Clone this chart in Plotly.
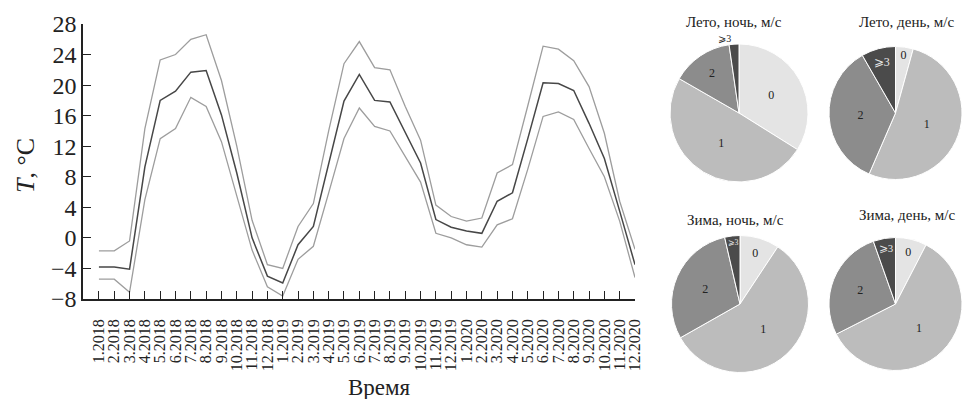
import plotly.graph_objects as go

# Monthly air temperature, 2018-2020
months = [f"{m}.{y}" for y in (2018, 2019, 2020) for m in range(1, 13)]
t_max = [-1.7, -1.7, -0.4, 14.3, 23.3, 24.0, 26.0, 26.6, 20.6, 12.0, 2.3, -3.5,
         -4.0, 1.5, 4.5, 14.0, 22.8, 25.7, 22.3, 22.0, 17.2, 12.8, 4.3, 2.8,
         2.2, 2.6, 8.5, 9.6, 17.3, 25.1, 24.7, 23.2, 19.8, 13.7, 4.8, -1.5]
t_mean = [-3.8, -3.8, -4.1, 9.3, 18.0, 19.2, 21.7, 21.9, 16.1, 8.5, 0.0, -5.0,
          -5.9, -0.9, 1.5, 9.5, 17.9, 21.4, 18.0, 17.8, 13.7, 9.8, 2.4, 1.4,
          0.9, 0.6, 4.8, 5.9, 13.0, 20.3, 20.2, 19.3, 15.0, 10.4, 3.5, -3.5]
t_min = [-5.4, -5.4, -7.1, 5.0, 13.0, 14.3, 18.4, 17.2, 12.6, 5.5, -1.6, -6.4,
         -7.6, -2.8, -1.1, 5.9, 13.0, 17.0, 14.6, 14.0, 10.6, 7.3, 0.6, 0.0,
         -0.9, -1.2, 1.7, 2.5, 9.0, 15.9, 16.5, 15.5, 11.7, 8.0, 2.2, -5.2]
y_ticks = [-8, -4, 0, 4, 8, 12, 16, 20, 24, 28]

# Wind speed distribution, % of observations
wind_labels = ["0", "1", "2", "⩾3"]
summer_night = [33.9, 49.4, 14.4, 2.3]
summer_day = [4.3, 52.2, 35.2, 8.3]
winter_night = [9.3, 57.5, 29.6, 3.6]
winter_day = [7.6, 59.9, 27.1, 5.4]
pie_titles = ["Лето, ночь, м/с", "Лето, день, м/с", "Зима, ночь, м/с", "Зима, день, м/с"]

SERIF = "Liberation Serif, Times New Roman, serif"
W, H = 962, 399
slice_colors = ["#e4e4e4", "#bcbcbc", "#8c8c8c", "#4b4b4b"]
text_colors = ["#222222", "#222222", "#222222", "#e8e8e8"]

fig = go.Figure()

x_idx = list(range(len(months)))
for series, color, width in ((t_max, "#9d9d9d", 1.3), (t_min, "#9d9d9d", 1.3),
                             (t_mean, "#474747", 1.5)):
    fig.add_trace(go.Scatter(x=x_idx, y=series, mode="lines",
                             line=dict(color=color, width=width),
                             showlegend=False, hoverinfo="skip"))


def px_x(a, b):
    return [a / W, min(b / W, 1.0)]


def px_y(top, bottom):
    return [1 - bottom / H, 1 - top / H]


pies = [
    (summer_night, px_x(670, 808), px_y(44, 182), ["inside", "inside", "inside", "outside"]),
    (summer_day, px_x(829, 962), px_y(46, 180), ["inside"] * 4),
    (winter_night, px_x(671.5, 808.5), px_y(235.5, 372.5), ["inside"] * 4),
    (winter_day, px_x(829, 962), px_y(237, 371), ["inside"] * 4),
]
for vals, dx, dy, tpos in pies:
    fig.add_trace(go.Pie(
        labels=wind_labels, values=vals, sort=False, direction="clockwise",
        rotation=0, domain=dict(x=dx, y=dy),
        marker=dict(colors=slice_colors, line=dict(color="white", width=1)),
        textinfo="label", textposition=tpos,
        insidetextorientation="horizontal",
        insidetextfont=dict(family=SERIF, size=12, color=text_colors),
        outsidetextfont=dict(family=SERIF, size=10, color="#222222"),
        showlegend=False, hoverinfo="skip", automargin=False,
    ))

fig.update_layout(
    width=W, height=H,
    margin=dict(l=0, r=0, t=0, b=0, autoexpand=False),
    paper_bgcolor="white", plot_bgcolor="white",
    xaxis=dict(
        domain=[83 / W, 635 / W], range=[-1.04, 35], automargin=False,
        tickmode="array", tickvals=x_idx, ticktext=months, tickangle=-90,
        ticks="inside", ticklen=8, tickwidth=1.2, tickcolor="#222",
        ticklabelstandoff=12,
        showline=True, linecolor="#222", linewidth=1.5,
        showgrid=False, zeroline=False,
        tickfont=dict(family=SERIF, size=16, color="#222"),
    ),
    yaxis=dict(
        domain=[1 - 299 / H, 1 - 24 / H], range=[-8, 28], automargin=False,
        tickmode="array", tickvals=y_ticks,
        ticks="inside", ticklen=8, tickwidth=1.2, tickcolor="#222",
        showline=True, linecolor="#222", linewidth=1.5,
        showgrid=False, zeroline=False,
        tickfont=dict(family=SERIF, size=24, color="#222"),
    ),
)

annotations = [
    dict(text="Время", x=379 / W, y=1 - 387 / H, xref="paper", yref="paper",
         showarrow=False, font=dict(family=SERIF, size=23, color="#222"),
         xanchor="center", yanchor="middle"),
    dict(text="<i>T</i>, °C", x=25 / W, y=1 - 166 / H, xref="paper", yref="paper",
         showarrow=False, textangle=-90, font=dict(family=SERIF, size=26, color="#222"),
         xanchor="center", yanchor="middle"),
]
title_pos = [(734, 22), (906, 22), (735, 220), (907, 215)]
for title, (tx, ty) in zip(pie_titles, title_pos):
    annotations.append(dict(text=title, x=tx / W, y=1 - ty / H, xref="paper", yref="paper",
                            showarrow=False, font=dict(family=SERIF, size=15, color="#222"),
                            xanchor="center", yanchor="middle"))
fig.update_layout(annotations=annotations)

fig.write_html("out.html")
